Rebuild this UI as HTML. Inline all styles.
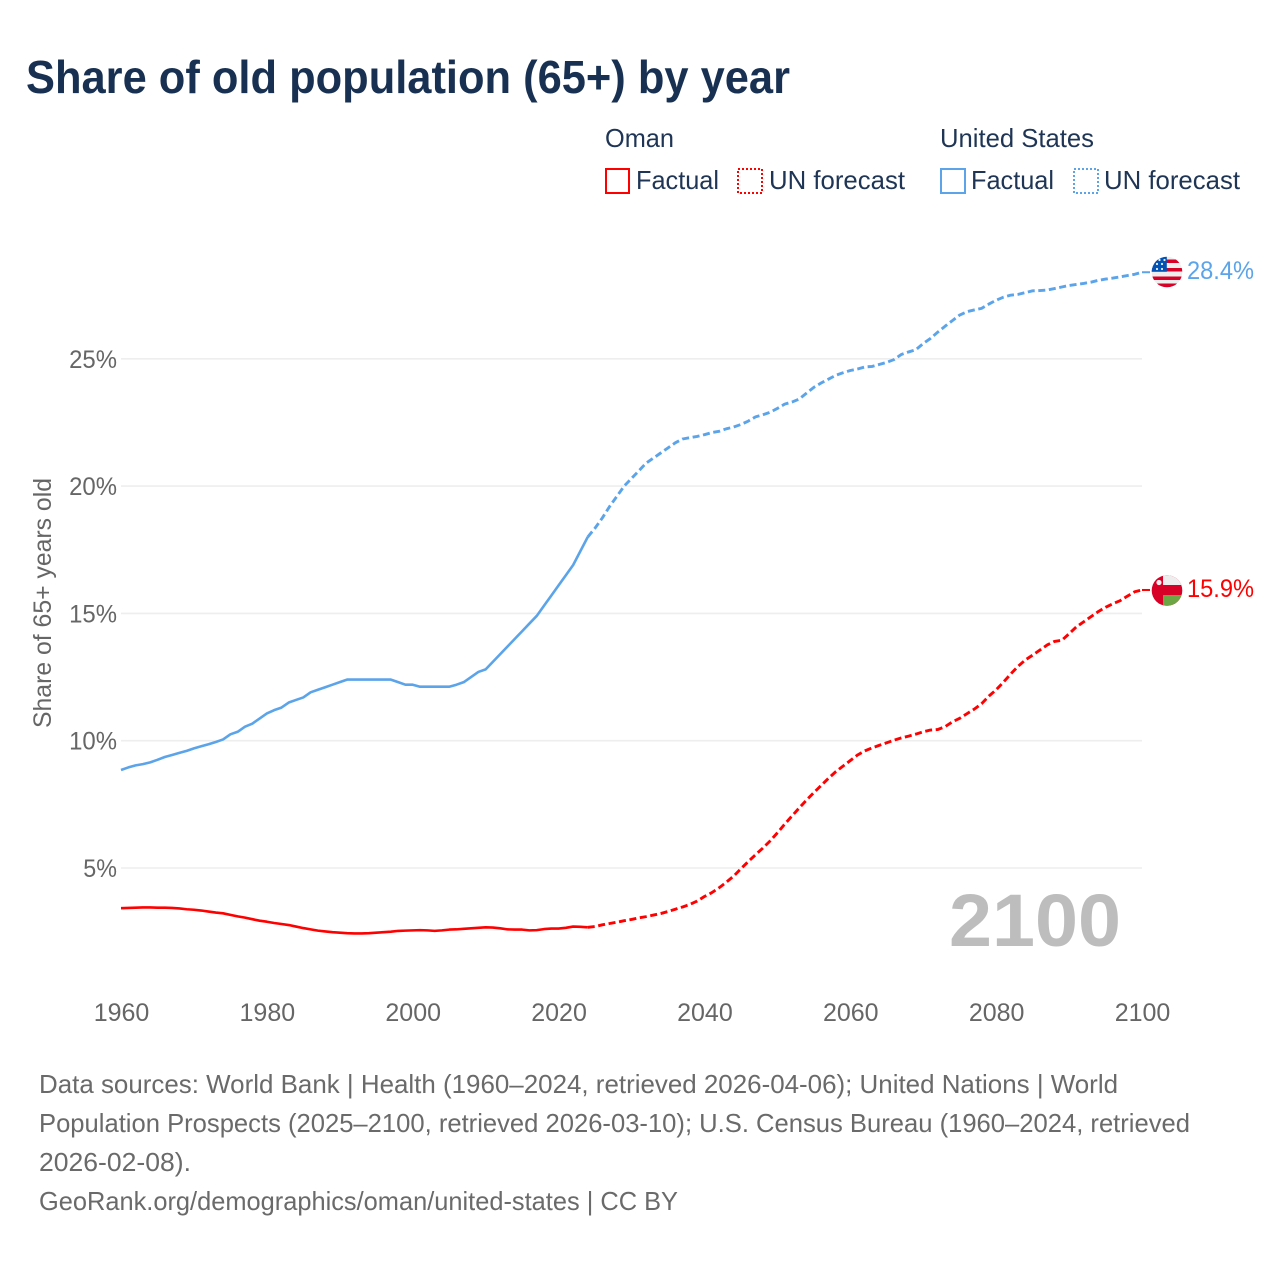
<!DOCTYPE html>
<html lang="en">
<head>
<meta charset="utf-8">
<title>Share of old population (65+) by year</title>
<style>
html,body{margin:0;padding:0;background:#fff;}
svg{display:block;font-family:"Liberation Sans",sans-serif;}
.legend{font-size:26px;fill:#1f3555;}
.foot{font-size:26px;fill:#6a6a6a;}
.tick{font-size:25px;fill:#666;}
</style>
</head>
<body>
<svg xmlns="http://www.w3.org/2000/svg" width="1280" height="1280" viewBox="0 0 1280 1280">
  <defs>
    <clipPath id="clip-us"><circle cx="1167" cy="272" r="15.3"/></clipPath>
    <clipPath id="clip-om"><circle cx="1167" cy="590.5" r="15.3"/></clipPath>
  </defs>
  <rect width="1280" height="1280" fill="#fff"/>
  <text x="26" y="93" font-size="46" font-weight="700" fill="#183152" textLength="764" lengthAdjust="spacingAndGlyphs">Share of old population (65+) by year</text>

  <g>
    <text class="legend" x="605" y="147" textLength="69" lengthAdjust="spacingAndGlyphs">Oman</text>
    <rect x="606" y="169" width="23" height="24" fill="none" stroke="#ff0000" stroke-width="2"/>
    <text class="legend" x="636" y="189" textLength="83" lengthAdjust="spacingAndGlyphs">Factual</text>
    <rect x="738" y="169" width="24" height="24" fill="none" stroke="#ff0000" stroke-width="2" stroke-dasharray="2 2"/>
    <text class="legend" x="769" y="189" textLength="136" lengthAdjust="spacingAndGlyphs">UN forecast</text>
    <text class="legend" x="940" y="147" textLength="154" lengthAdjust="spacingAndGlyphs">United States</text>
    <rect x="941" y="169" width="24" height="24" fill="none" stroke="#5ba4ea" stroke-width="2"/>
    <text class="legend" x="971" y="189" textLength="83" lengthAdjust="spacingAndGlyphs">Factual</text>
    <rect x="1074" y="169" width="24" height="24" fill="none" stroke="#5ba4ea" stroke-width="2" stroke-dasharray="2 2"/>
    <text class="legend" x="1104" y="189" textLength="136" lengthAdjust="spacingAndGlyphs">UN forecast</text>
  </g>

  <g id="grid"></g>
  <g id="yticks"></g>
  <g id="xticks"></g>
  <text class="tick" transform="translate(51,728) rotate(-90)" textLength="250" lengthAdjust="spacingAndGlyphs" font-size="25">Share of 65+ years old</text>
  <text x="1121" y="946" text-anchor="end" font-size="74" font-weight="700" fill="#bdbdbd" textLength="172" lengthAdjust="spacingAndGlyphs">2100</text>

  <g id="series"></g>

  <g clip-path="url(#clip-us)">
    <rect x="1150" y="255" width="34" height="34" fill="#eeeeee"/>
    <rect x="1150" y="259.5" width="34" height="3.5" fill="#d80027"/>
    <rect x="1150" y="268" width="34" height="3.5" fill="#d80027"/>
    <rect x="1150" y="276.5" width="34" height="3.5" fill="#d80027"/>
    <rect x="1150" y="283.5" width="34" height="6" fill="#d80027"/>
    <rect x="1150" y="255" width="16.8" height="16.8" fill="#0052b4"/>
    <g fill="#eeeeee">
      <circle cx="1157" cy="269" r="1.1"/><circle cx="1162" cy="269" r="1.1"/><circle cx="1157" cy="264" r="1.1"/><circle cx="1162" cy="264" r="1.1"/><circle cx="1159.5" cy="260" r="1.1"/><circle cx="1164.5" cy="260" r="1.1"/>
    </g>
  </g>
  <g clip-path="url(#clip-om)">
    <rect x="1150" y="573" width="34" height="34" fill="#d80027"/>
    <rect x="1163" y="573" width="21" height="12" fill="#eeeeee"/>
    <rect x="1163" y="595" width="21" height="13" fill="#6da544"/>
    <circle cx="1159" cy="582.5" r="2.6" fill="#eeeeee"/>
  </g>
  <text x="1187" y="279" font-size="25" fill="#5ba4ea" textLength="67" lengthAdjust="spacingAndGlyphs">28.4%</text>
  <text x="1187" y="597" font-size="25" fill="#ff0000" textLength="67" lengthAdjust="spacingAndGlyphs">15.9%</text>

  <g>
    <text class="foot" x="39" y="1093" textLength="1079" lengthAdjust="spacingAndGlyphs">Data sources: World Bank | Health (1960–2024, retrieved 2026-04-06); United Nations | World</text>
    <text class="foot" x="39" y="1132" textLength="1151" lengthAdjust="spacingAndGlyphs">Population Prospects (2025–2100, retrieved 2026-03-10); U.S. Census Bureau (1960–2024, retrieved</text>
    <text class="foot" x="39" y="1171" textLength="152" lengthAdjust="spacingAndGlyphs">2026-02-08).</text>
    <text class="foot" x="39" y="1210" textLength="639" lengthAdjust="spacingAndGlyphs">GeoRank.org/demographics/oman/united-states | CC BY</text>
  </g>

<script>
const factualYears = [1960,1961,1962,1963,1964,1965,1966,1967,1968,1969,1970,1971,1972,1973,1974,1975,1976,1977,1978,1979,1980,1981,1982,1983,1984,1985,1986,1987,1988,1989,1990,1991,1992,1993,1994,1995,1996,1997,1998,1999,2000,2001,2002,2003,2004,2005,2006,2007,2008,2009,2010,2011,2012,2013,2014,2015,2016,2017,2018,2019,2020,2021,2022,2023,2024];
const forecastYears = [2024,2025,2026,2027,2028,2029,2030,2031,2032,2033,2034,2035,2036,2037,2038,2039,2040,2041,2042,2043,2044,2045,2046,2047,2048,2049,2050,2051,2052,2053,2054,2055,2056,2057,2058,2059,2060,2061,2062,2063,2064,2065,2066,2067,2068,2069,2070,2071,2072,2073,2074,2075,2076,2077,2078,2079,2080,2081,2082,2083,2084,2085,2086,2087,2088,2089,2090,2091,2092,2093,2094,2095,2096,2097,2098,2099,2100];
const usFactual = [8.85,8.95,9.03,9.08,9.15,9.25,9.36,9.44,9.52,9.6,9.7,9.78,9.86,9.95,10.05,10.25,10.35,10.55,10.67,10.87,11.07,11.2,11.3,11.5,11.6,11.7,11.9,12.0,12.1,12.2,12.3,12.4,12.4,12.4,12.4,12.4,12.4,12.4,12.3,12.2,12.2,12.12,12.12,12.12,12.12,12.12,12.2,12.3,12.5,12.7,12.8,13.1,13.4,13.7,14.0,14.3,14.6,14.9,15.3,15.7,16.1,16.5,16.9,17.45,18.0];
const usForecast = [18.0,18.35,18.75,19.2,19.6,20.0,20.3,20.6,20.9,21.1,21.3,21.5,21.7,21.85,21.9,21.95,22.02,22.1,22.15,22.25,22.32,22.42,22.55,22.72,22.8,22.9,23.05,23.22,23.3,23.42,23.65,23.88,24.05,24.2,24.35,24.45,24.54,24.6,24.68,24.7,24.78,24.86,24.97,25.17,25.27,25.36,25.6,25.8,26.05,26.28,26.5,26.72,26.85,26.92,26.98,27.15,27.3,27.42,27.5,27.53,27.6,27.67,27.68,27.7,27.76,27.82,27.88,27.92,27.96,28.01,28.08,28.13,28.17,28.22,28.27,28.32,28.4];
const omanFactual = [3.42,3.43,3.44,3.45,3.45,3.44,3.44,3.43,3.41,3.38,3.36,3.33,3.29,3.25,3.22,3.16,3.1,3.05,2.99,2.93,2.89,2.84,2.8,2.76,2.7,2.64,2.59,2.54,2.51,2.48,2.46,2.44,2.43,2.43,2.44,2.46,2.48,2.5,2.53,2.54,2.55,2.56,2.55,2.53,2.55,2.58,2.59,2.61,2.63,2.65,2.67,2.66,2.63,2.59,2.58,2.58,2.55,2.56,2.6,2.62,2.62,2.65,2.7,2.69,2.67];
const omanForecast = [2.67,2.70,2.77,2.82,2.87,2.93,2.98,3.04,3.09,3.15,3.21,3.29,3.38,3.47,3.57,3.70,3.88,4.03,4.22,4.44,4.68,4.97,5.25,5.52,5.78,6.06,6.38,6.72,7.04,7.36,7.67,7.96,8.24,8.52,8.78,9.0,9.22,9.44,9.6,9.72,9.82,9.92,10.02,10.11,10.18,10.26,10.35,10.42,10.44,10.55,10.74,10.88,11.06,11.24,11.45,11.75,12.0,12.3,12.62,12.92,13.17,13.36,13.56,13.76,13.9,13.94,14.2,14.47,14.67,14.87,15.07,15.24,15.38,15.5,15.68,15.85,15.92];
const yTickValues = [5,10,15,20,25];
const yTickLabels = ["5%","10%","15%","20%","25%"];
const xTickYears = [1960,1980,2000,2020,2040,2060,2080,2100];

const SVG_NS = "http://www.w3.org/2000/svg";
function xScale(year){ return 121 + (year - 1960) * (1142 - 121) / (2100 - 1960); }
function yScale(v){ return 995.3 - v * 25.46; }
function pathFrom(years, values){
  return years.map(function(y,i){ return (i ? "L" : "M") + xScale(y).toFixed(2) + " " + yScale(values[i]).toFixed(2); }).join("");
}
function seriesPath(years, values, color, dashed, name){
  const p = document.createElementNS(SVG_NS, "path");
  p.setAttribute("d", pathFrom(years, values));
  p.setAttribute("fill", "none");
  p.setAttribute("stroke", color);
  p.setAttribute("stroke-width", dashed ? "2.9" : "2.6");
  p.setAttribute("stroke-linejoin", "round");
  if (dashed) p.setAttribute("stroke-dasharray", "7 3.6");
  
  
  document.getElementById("series").appendChild(p);
}
function connector(year, value, color, name){
  const l = document.createElementNS(SVG_NS, "line");
  l.setAttribute("x1", xScale(year));
  l.setAttribute("x2", xScale(year) + 8);
  l.setAttribute("y1", yScale(value));
  l.setAttribute("y2", yScale(value));
  l.setAttribute("stroke", color);
  l.setAttribute("stroke-width", "2");
  
  
  document.getElementById("series").appendChild(l);
}
yTickValues.forEach(function(v,i){
  const g = document.createElementNS(SVG_NS, "line");
  g.setAttribute("x1", xScale(1960));
  g.setAttribute("x2", xScale(2100));
  g.setAttribute("y1", yScale(v));
  g.setAttribute("y2", yScale(v));
  g.setAttribute("stroke", "#eeeeee");
  g.setAttribute("stroke-width", "1.6");
  
  
  document.getElementById("grid").appendChild(g);
  const t = document.createElementNS(SVG_NS, "text");
  t.setAttribute("x", 117);
  t.setAttribute("y", yScale(v) + 9);
  t.setAttribute("text-anchor", "end");
  t.setAttribute("class", "tick");
  t.setAttribute("textLength", (yTickLabels[i].length - 1) * 14.2 + 19.5);
  t.setAttribute("lengthAdjust", "spacingAndGlyphs");
  t.textContent = yTickLabels[i];
  
  
  document.getElementById("yticks").appendChild(t);
});
xTickYears.forEach(function(y){
  const t = document.createElementNS(SVG_NS, "text");
  t.setAttribute("x", xScale(y) + 0.5);
  t.setAttribute("y", 1021);
  t.setAttribute("text-anchor", "middle");
  t.setAttribute("class", "tick");
  t.textContent = String(y);
  
  
  document.getElementById("xticks").appendChild(t);
});
seriesPath(factualYears, usFactual, "#5ba4ea", false, "line-us-factual");
seriesPath(forecastYears, usForecast, "#5ba4ea", true, "line-us-forecast");
seriesPath(factualYears, omanFactual, "#ff0000", false, "line-oman-factual");
seriesPath(forecastYears, omanForecast, "#ff0000", true, "line-oman-forecast");
connector(2100, usForecast[usForecast.length - 1], "#5ba4ea", "connector-us");
connector(2100, omanForecast[omanForecast.length - 1], "#ff0000", "connector-oman");
</script>
</svg>
</body>
</html>
